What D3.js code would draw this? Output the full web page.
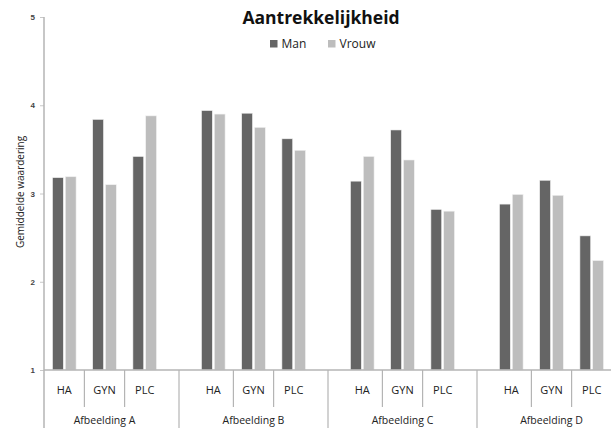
<!DOCTYPE html>
<html>
<head>
<meta charset="utf-8">
<script src="https://cdn.jsdelivr.net/npm/d3@7"></script>
<style>
  html, body { margin: 0; padding: 0; background: #fff; }
  svg { display: block; font-family: "Open Sans", "Noto Sans", sans-serif; }
</style>
</head>
<body>
<svg id="chart" width="611" height="428"></svg>
<script>
// Picture groups and the conditions shown within each group
const groups = ["Afbeelding A", "Afbeelding B", "Afbeelding C", "Afbeelding D"];
const conditions = ["HA", "GYN", "PLC"];
const seriesNames = ["Man", "Vrouw"];

// Mean rating per condition, in group order (A: HA, GYN, PLC, B: ..., ...)
const manValues   = [3.18, 3.84, 3.42, 3.94, 3.91, 3.62, 3.14, 3.72, 2.82, 2.88, 3.15, 2.52];
const vrouwValues = [3.19, 3.10, 3.88, 3.90, 3.75, 3.49, 3.42, 3.38, 2.80, 2.99, 2.98, 2.24];

const yTicks = [1, 2, 3, 4, 5];
const titleText = "Aantrekkelijkheid";
const yTitle = "Gemiddelde waardering";

const colors = { Man: "#656565", Vrouw: "#bdbdbd" };

const rows = [];
groups.forEach((g, gi) => {
  conditions.forEach((c, ci) => {
    const i = gi * conditions.length + ci;
    rows.push({ group: g, cond: c, Man: manValues[i], Vrouw: vrouwValues[i] });
  });
});

const svg = d3.select("#chart");
const axisX = 44;
const y = d3.scaleLinear().domain([1, 5]).range([370, 17]);

// group bands; the last one runs past the right edge of the drawing
const xGroup = d3.scaleBand().domain(groups).range([30, 626]);
const xCond = d3.scaleBand().domain(conditions).range([-60.3, 60.3]);
const xSeries = d3.scaleBand().domain(seriesNames).range([-11.8, 11.8]).paddingInner(0.156);

const condCenter = d => xGroup(d.group) + xGroup.bandwidth() / 2 + xCond(d.cond) + xCond.bandwidth() / 2;

// bars
seriesNames.forEach(s => {
  svg.append("g").selectAll("rect").data(rows).join("rect")
    .attr("x", d => condCenter(d) + xSeries(s))
    .attr("y", d => y(d[s]))
    .attr("width", xSeries.bandwidth())
    .attr("height", d => y(1) - y(d[s]))
    .attr("fill", colors[s])
    .attr("stroke", "#f2f2f2")
    .attr("stroke-width", 0.6);
});

// y axis
const yAxis = d3.axisLeft(y).tickValues(yTicks).tickFormat(d3.format("d")).tickSize(4).tickPadding(5);
const yg = svg.append("g").attr("transform", `translate(${axisX},0)`).call(yAxis);
yg.select(".domain").remove();
yg.selectAll(".tick line").attr("stroke", "#c8c8c8");
yg.selectAll(".tick text").attr("fill", "#444").style("font-size", "8px").style("font-weight", "bold");

const axisColor = "#b4b4b4";
// vertical axis line, continuing down through the category label area
svg.append("line").attr("x1", axisX).attr("x2", axisX).attr("y1", y(5)).attr("y2", 428)
  .attr("stroke", axisColor).attr("stroke-width", 1.5);
// horizontal category axis
svg.append("line").attr("x1", axisX).attr("x2", 611).attr("y1", y(1)).attr("y2", y(1))
  .attr("stroke", axisColor).attr("stroke-width", 1.5);

// dividers between conditions (short) and between groups (full height)
const condDividers = [];
groups.forEach(g => {
  const c0 = xGroup(g) + xGroup.bandwidth() / 2;
  condDividers.push(c0 + xCond("GYN"), c0 + xCond("PLC"));
});
svg.append("g").selectAll("line").data(condDividers).join("line")
  .attr("x1", d => d).attr("x2", d => d).attr("y1", y(1)).attr("y2", 407)
  .attr("stroke", axisColor).attr("stroke-width", 1.2);
svg.append("g").selectAll("line").data(groups.slice(1)).join("line")
  .attr("x1", d => xGroup(d)).attr("x2", d => xGroup(d)).attr("y1", y(1)).attr("y2", 428)
  .attr("stroke", axisColor).attr("stroke-width", 1.2);

// condition labels
svg.append("g").selectAll("text").data(rows).join("text")
  .attr("x", d => condCenter(d)).attr("y", 393.5)
  .attr("text-anchor", "middle").attr("fill", "#222")
  .style("font-size", "11px")
  .text(d => d.cond);

// group labels
svg.append("g").selectAll("text").data(groups).join("text")
  .attr("x", d => xGroup(d) + xGroup.bandwidth() / 2).attr("y", 424)
  .attr("text-anchor", "middle").attr("fill", "#222")
  .style("font-size", "10.5px")
  .text(d => d);

// y title
svg.append("text")
  .attr("transform", `translate(24,192) rotate(-90)`)
  .attr("text-anchor", "middle").attr("fill", "#222")
  .style("font-size", "10px")
  .text(yTitle);

// title
svg.append("text").attr("x", 321).attr("y", 24)
  .attr("text-anchor", "middle").attr("fill", "#111")
  .style("font-size", "17.5px").style("font-weight", "bold")
  .text(titleText);

// legend
const legendX = [270, 328];
const lg = svg.append("g").selectAll("g").data(seriesNames).join("g")
  .attr("transform", (d, i) => `translate(${legendX[i]},40)`);
lg.append("rect").attr("width", 7.5).attr("height", 7.5).attr("fill", d => colors[d]);
lg.append("text").attr("x", 11.5).attr("y", 8).attr("fill", "#222")
  .style("font-size", "12px").text(d => d);
</script>
</body>
</html>
